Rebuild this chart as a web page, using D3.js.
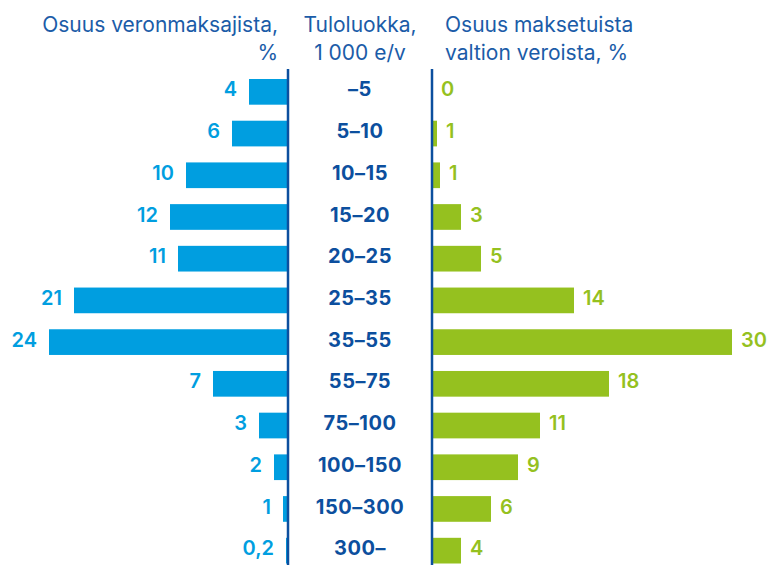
<!DOCTYPE html>
<html>
<head>
<meta charset="utf-8">
<script src="https://cdn.jsdelivr.net/npm/d3@7"></script>
<style>
  body { margin: 0; background: #fff; }
  svg { display: block; font-family: Inter, "Noto Sans", sans-serif; }
</style>
</head>
<body>
<script>
const w = 769;
const h = 565;

// income classes, 1 000 e/v
const incomeClasses = ["–5", "5–10", "10–15", "15–20", "20–25", "25–35", "35–55", "55–75", "75–100", "100–150", "150–300", "300–"];

// share of taxpayers, % (bar lengths as drawn, labels as printed)
const taxpayerShare = [3.9, 5.6, 10.2, 11.8, 11.0, 21.4, 23.9, 7.5, 2.9, 1.4, 0.5, 0.2];
const taxpayerLabels = ["4", "6", "10", "12", "11", "21", "24", "7", "3", "2", "1", "0,2"];

// share of state taxes paid, %
const taxShare = [0, 0.5, 0.8, 2.9, 4.9, 14.2, 30, 17.7, 10.8, 8.6, 5.9, 2.9];
const taxLabels = ["0", "1", "1", "3", "5", "14", "30", "18", "11", "9", "6", "4"];

const leftTitle = ["Osuus veronmaksajista,", "%"];
const midTitle = ["Tuloluokka,", "1 000 e/v"];
const rightTitle = ["Osuus maksetuista", "valtion veroista, %"];

const blue = "#009ee0";
const green = "#95c11f";
const navy = "#0c4f9e";
const titleColor = "#1b5ca8";

const leftAxisX = 288;
const rightAxisX = 432;

const svg = d3.select("body").append("svg")
  .attr("width", w)
  .attr("height", h);

const y = d3.scaleBand()
  .domain(incomeClasses)
  .range([79, 563.5])
  .paddingInner(0.384)
  .paddingOuter(0);

const xLeft = d3.scaleLinear().domain([0, 24]).range([leftAxisX, leftAxisX - 240]);
const xRight = d3.scaleLinear().domain([0, 30]).range([rightAxisX, rightAxisX + 300]);

const baseline = c => y(c) + y.bandwidth() * 0.68;

// left bars
svg.append("g").selectAll("rect")
  .data(taxpayerShare)
  .enter()
  .append("rect")
  .attr("x", d => xLeft(d))
  .attr("y", (d, i) => y(incomeClasses[i]))
  .attr("width", d => xLeft(0) - xLeft(d))
  .attr("height", y.bandwidth())
  .attr("fill", blue);

svg.append("g").selectAll("text")
  .data(taxpayerLabels)
  .enter()
  .append("text")
  .attr("x", (d, i) => xLeft(taxpayerShare[i]) - 12)
  .attr("y", (d, i) => baseline(incomeClasses[i]))
  .attr("text-anchor", "end")
  .attr("fill", blue)
  .style("font-size", "20px")
  .style("font-weight", 600)
  .text(d => d);

// right bars
svg.append("g").selectAll("rect")
  .data(taxShare)
  .enter()
  .append("rect")
  .attr("x", xRight(0))
  .attr("y", (d, i) => y(incomeClasses[i]))
  .attr("width", d => xRight(d) - xRight(0))
  .attr("height", y.bandwidth())
  .attr("fill", green);

svg.append("g").selectAll("text")
  .data(taxLabels)
  .enter()
  .append("text")
  .attr("x", (d, i) => xRight(taxShare[i]) + 9)
  .attr("y", (d, i) => baseline(incomeClasses[i]))
  .attr("fill", green)
  .style("font-size", "20px")
  .style("font-weight", 600)
  .text(d => d);

// category labels in the middle
svg.append("g").selectAll("text")
  .data(incomeClasses)
  .enter()
  .append("text")
  .attr("x", (leftAxisX + rightAxisX) / 2)
  .attr("y", d => baseline(d))
  .attr("text-anchor", "middle")
  .attr("fill", navy)
  .style("font-size", "20px")
  .style("font-weight", 700)
  .style("letter-spacing", "0.5px")
  .text(d => d);

// the two vertical lines
[leftAxisX, rightAxisX].forEach(x => {
  svg.append("line")
    .attr("x1", x).attr("x2", x)
    .attr("y1", 69).attr("y2", h)
    .attr("stroke", navy)
    .attr("stroke-width", 2.5);
});

// column titles
function title(lines, x, anchor) {
  const t = svg.append("text")
    .attr("text-anchor", anchor)
    .attr("fill", titleColor)
    .style("font-size", "21px");
  lines.forEach((s, i) => {
    t.append("tspan").attr("x", x).attr("y", 32 + i * 27.5).text(s);
  });
}
title(leftTitle, 278, "end");
title(midTitle, 360, "middle");
title(rightTitle, 445, "start");
</script>
</body>
</html>
